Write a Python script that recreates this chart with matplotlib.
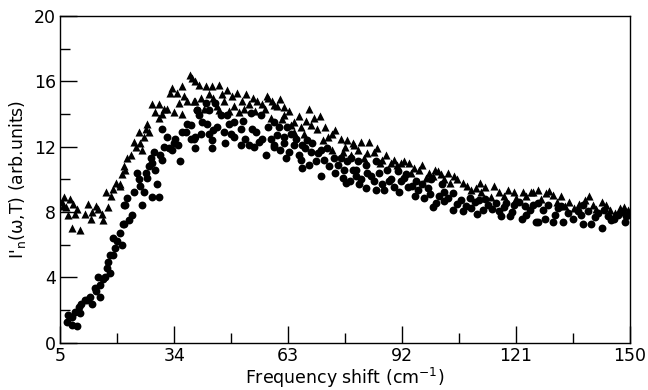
import matplotlib
matplotlib.use("Agg")
import matplotlib.pyplot as plt
from matplotlib.ticker import MultipleLocator, FixedLocator

# Triangles (upper series)
tri_x = [5.5, 5.8, 6.4, 7.0, 7.5, 8.1, 8.3, 8.7, 10.0, 11.3, 12.1, 13.0, 14.7, 15.5, 16.0,
         17.2, 16.7, 18.5, 19.3, 20.2, 20.3, 20.7, 21.6, 22.0, 22.9, 23.7, 25.0, 25.4, 25.8,
         26.2, 26.7, 27.5, 28.4, 29.2, 30.1, 30.1, 30.9, 32.2, 33.0, 33.5, 33.9, 34.7, 36.0,
         36.0, 36.5, 37.3, 38.0, 38.6, 39.0, 39.4, 39.4, 40.3, 42.0, 42.8, 43.7, 45.4, 45.4,
         46.2, 46.7, 48.8, 49.2, 50.5, 51.3, 52.2, 53.0, 55.2, 56.4, 57.7, 58.6, 59.0, 59.4,
         60.3, 62.0, 62.0, 64.5, 64.5, 65.8, 67.1, 67.5, 68.8, 69.6, 71.8, 74.3, 74.3, 76.4,
         76.9, 78.1, 79.0, 79.4, 79.8, 80.7, 83.2, 83.6, 84.9, 87.0, 89.2, 90.0, 91.7, 93.8,
         94.3, 96.4, 98.1, 98.9, 101.1, 102.0, 103.6, 104.1, 105.3, 107.5, 109.6, 110.9, 113.0,
         114.7, 116.8, 119.0, 120.6, 121.1, 122.8, 124.9, 125.3, 126.6, 128.7, 130.4, 133.4,
         135.9, 138.5, 140.6, 144.0, 146.2, 147.4, 149.6,
         40.8, 41.5, 44.0, 44.9, 47.5, 48.0, 50.0, 51.8, 54.0, 54.6, 57.0, 58.0, 61.0, 61.5,
         63.2, 63.8, 66.2, 68.2, 70.3, 71.0, 72.5, 73.2, 75.0, 77.5, 81.5, 82.3, 85.6, 86.3,
         88.0, 90.8, 92.5, 95.0, 97.2, 99.8, 100.5, 102.8, 106.0, 108.5, 111.8, 112.2, 115.5,
         118.0, 123.5, 127.5, 129.5, 131.5, 132.5, 134.5, 137.0, 139.5, 141.5, 142.8, 145.0,
         148.5, 6.0, 9.3, 12.8, 14.0, 18.0, 21.2, 24.2, 27.0, 31.5, 35.2]
tri_y = [8.6, 8.4, 8.3, 7.8, 8.8, 7.0, 8.5, 7.9, 6.9, 7.9, 8.5, 8.0, 8.2, 7.9, 7.5,
         8.3, 9.2, 9.4, 9.8, 9.6, 9.7, 10.3, 10.6, 11.3, 11.5, 12.3, 12.9, 12.2, 11.8,
         12.6, 13.1, 12.9, 14.6, 14.1, 14.6, 13.75, 14.0, 14.3, 15.3, 15.6, 14.1, 15.3, 15.7,
         14.0, 15.1, 14.8, 16.4, 16.2, 14.8, 16.0, 14.8, 15.8, 15.7, 15.2, 15.7, 15.8, 14.25,
         15.2, 14.8, 15.1, 14.5, 14.1, 14.8, 15.2, 14.6, 14.8, 14.6, 15.1, 13.75, 14.8, 14.55,
         14.5, 14.45, 13.95, 13.5, 12.9, 13.85, 12.8, 13.6, 13.3, 13.75, 12.4, 12.8, 11.8, 12.5,
         11.7, 12.4, 11.5, 12.2, 12.1, 11.8, 11.6, 12.3, 11.7, 11.2, 11.0, 11.2, 11.0, 11.0,
         10.4, 10.6, 10.1, 10.4, 10.5, 10.3, 10.4, 9.75, 10.2, 9.75, 9.35, 9.45, 9.55,
         8.95, 9.25, 9.35, 9.25, 8.85, 9.25, 9.25, 9.25, 9.35, 9.15, 9.05, 8.35,
         8.25, 8.75, 8.45, 8.45, 7.95, 8.25, 8.15,
         15.0, 14.3, 15.0, 14.5, 15.5, 14.2, 15.3, 14.3, 15.0, 14.2, 14.3, 15.0, 14.9, 13.7,
         14.2, 13.3, 13.2, 14.3, 13.1, 13.9, 13.2, 12.6, 13.0, 12.0, 12.3, 11.3, 11.9, 11.0,
         11.5, 10.9, 11.1, 10.7, 10.9, 10.2, 10.6, 10.0, 10.0, 9.6, 9.8, 9.2, 9.6,
         9.0, 9.0, 8.8, 9.3, 8.6, 9.0, 8.6, 8.5, 9.0, 8.2, 8.6, 8.1,
         8.3, 8.9, 8.2, 7.6, 8.4, 9.0, 10.8, 12.0, 13.4, 14.3, 14.7]

# Circles (lower series)
circ_x = [7.0, 7.9, 9.2, 8.7, 10.0, 10.4, 11.3, 12.6, 13.0, 13.8, 14.7, 15.1, 15.1, 16.4,
          16.8, 17.2, 17.7, 17.7, 18.5, 18.5, 19.4, 20.2, 20.6, 21.0, 21.1, 21.1, 21.5, 22.0,
          22.4, 23.3, 24.6, 25.0, 25.4, 25.8, 26.2, 26.7, 27.1, 28.0, 28.4, 28.4, 28.8, 29.7,
          30.1, 30.5, 30.9, 30.9, 31.4, 32.2, 33.5, 33.9, 34.3, 35.6, 36.0, 37.3, 38.2, 38.2,
          39.0, 39.4, 39.4, 39.9, 39.9, 40.3, 40.7, 42.0, 42.4, 42.8, 42.8, 43.7, 43.7, 44.5,
          45.0, 45.8, 46.7, 47.5, 48.4, 49.2, 49.2, 50.9, 50.9, 53.0, 53.5, 53.9, 54.3, 54.8,
          56.0, 56.4, 57.3, 58.6, 59.4, 59.4, 59.4, 60.2, 60.7, 62.0, 62.0, 62.4, 62.8, 63.2,
          64.5, 65.0, 66.2, 66.6, 66.6, 67.9, 68.8, 69.2, 70.0, 71.3, 71.3, 72.2, 74.7, 75.6,
          76.4, 76.9, 77.7, 78.1, 79.0, 79.4, 80.2, 80.3, 80.7, 81.5, 82.8, 82.8, 83.2, 84.9,
          85.4, 85.4, 86.2, 87.5, 88.3, 89.2, 90.0, 90.9, 91.7, 93.0, 93.4, 95.6, 96.0, 97.7,
          98.5, 99.4, 100.7, 102.3, 102.8, 102.8, 103.6, 104.9, 104.9, 107.0, 107.5, 109.2,
          109.6, 111.7, 112.6, 113.8, 116.0, 116.8, 117.2, 118.5, 119.4, 120.6, 123.2, 123.6,
          125.3, 126.2, 126.6, 126.6, 129.1, 130.4, 131.7, 133.0, 134.3, 136.8, 138.1, 138.1,
          139.4, 140.2, 142.0, 142.8, 144.5, 145.3, 147.1, 148.7, 149.1,
          41.0, 44.0, 47.0, 48.0, 51.5, 52.0, 55.5, 57.8, 61.0, 63.8, 65.8, 67.3, 68.3, 70.6,
          72.8, 73.5, 75.0, 77.2, 78.8, 81.0, 84.0, 86.8, 88.8, 91.2, 92.4, 94.5, 95.2, 97.0,
          99.0, 100.0, 101.5, 106.0, 108.2, 110.5, 111.0, 113.0, 115.0, 118.0, 120.0, 121.8,
          122.5, 124.5, 127.8, 128.5, 131.0, 132.5, 135.5, 137.5, 141.0, 143.5, 146.0, 148.0,
          149.6, 6.8, 8.0, 9.8, 11.8, 14.2, 16.0, 19.0, 23.8, 27.6, 29.2, 32.8, 35.0, 37.0]
circ_y = [1.7, 1.1, 1.0, 1.9, 1.83, 2.4, 2.6, 2.8, 2.4, 3.35, 4.05, 3.55, 2.8, 4.05,
          4.6, 4.97, 4.3, 5.4, 5.4, 6.4, 6.2, 6.7, 6.0, 7.3, 8.45, 7.3, 8.45, 8.85,
          7.5, 7.8, 10.4, 10.0, 9.6, 8.45, 9.25, 10.4, 10.1, 11.3, 11.0, 8.95, 11.7, 9.7,
          8.95, 11.5, 13.1, 11.2, 12.0, 12.6, 11.8, 12.2, 12.5, 11.1, 12.9, 13.4, 12.5, 13.3,
          12.5, 12.6, 11.9, 14.25, 14.25, 13.95, 12.8, 14.65, 13.4, 14.25, 12.8, 12.4, 11.9, 14.65,
          13.2, 13.95, 12.9, 13.95, 12.8, 13.5, 12.6, 13.1, 12.1, 12.1, 14.05, 13.1, 12.0, 12.9,
          13.95, 12.5, 11.5, 12.5, 12.0, 13.5, 12.1, 12.7, 13.2, 12.6, 12.2, 11.3, 13.2, 11.7,
          12.1, 12.5, 11.2, 12.1, 10.7, 12.4, 11.7, 12.2, 11.1, 11.8, 10.2, 11.2, 11.3, 10.9,
          11.3, 10.1, 9.8, 11.1, 11.3, 10.6, 10.6, 10.2, 11.1, 10.0, 10.9, 9.45, 10.4, 9.9,
          11.1, 9.35, 10.4, 9.35, 10.6, 10.0, 9.55, 10.5, 9.9, 10.3, 9.55, 9.9, 9.35, 8.85,
          9.45, 10.0, 8.55, 9.7, 9.25, 8.65, 8.85, 9.15, 8.15, 8.75, 8.05, 8.85,
          8.25, 8.75, 8.15, 8.45, 8.55, 8.05, 7.75, 8.55, 7.75, 8.45, 8.35, 7.85,
          8.45, 7.4, 8.55, 7.4, 8.45, 7.4, 8.25, 7.4, 7.95, 8.05, 8.45, 7.3,
          8.05, 7.3, 7.95, 7.0, 7.75, 7.5, 7.85, 7.4, 7.75,
          13.5, 13.0, 12.2, 13.4, 13.6, 12.5, 12.3, 13.2, 11.8, 12.8, 11.5, 11.9, 10.9, 11.6,
          11.9, 10.8, 10.4, 10.6, 9.9, 9.7, 10.2, 9.7, 9.9, 9.2, 10.1, 9.6, 9.0, 9.7,
          9.1, 8.3, 9.0, 8.5, 8.4, 8.6, 7.9, 8.8, 8.2, 8.3, 8.0, 8.6,
          7.6, 8.1, 8.1, 7.6, 7.8, 8.4, 7.6, 7.8, 7.7, 8.1, 7.6, 8.0,
          7.8, 1.3, 1.6, 2.2, 2.6, 3.2, 3.9, 5.8, 9.2, 10.8, 10.6, 11.9, 12.1, 12.9]

x_ticks = [5, 34, 63, 92, 121, 150]
y_ticks = [0, 4, 8, 12, 16, 20]

fig = plt.figure(figsize=(6.48, 3.9), dpi=100)
ax = fig.add_axes([0.093, 0.121, 0.879, 0.838])

ax.scatter(tri_x, tri_y, marker='^', s=34, color='black', linewidths=0, zorder=3)
ax.scatter(circ_x, circ_y, marker='o', s=32, color='black', linewidths=0, zorder=3)

ax.set_xlim(5, 150)
ax.set_ylim(0, 20)
ax.xaxis.set_major_locator(FixedLocator(x_ticks))
ax.xaxis.set_minor_locator(FixedLocator([19.5, 48.5, 77.5, 106.5, 135.5]))
ax.yaxis.set_major_locator(FixedLocator(y_ticks))
ax.yaxis.set_minor_locator(MultipleLocator(2))
ax.set_xticklabels([str(v) for v in x_ticks])
ax.set_yticklabels([str(v) for v in y_ticks])

ax.tick_params(which='both', direction='in', top=False, right=False, width=1.0,
               labelsize=12.5, colors='black')
ax.tick_params(which='major', length=12, pad=3)
ax.tick_params(which='minor', length=7)
for s in ax.spines.values():
    s.set_linewidth(1.0)
    s.set_color('black')

ax.set_xlabel("Frequency shift (cm$^{-1}$)", fontsize=12.5, labelpad=1)
ax.set_ylabel("I$'_{\\rm n}$(ω,T) (arb.units)", fontsize=12.5, labelpad=4)

fig.savefig("out.png", dpi=100)
